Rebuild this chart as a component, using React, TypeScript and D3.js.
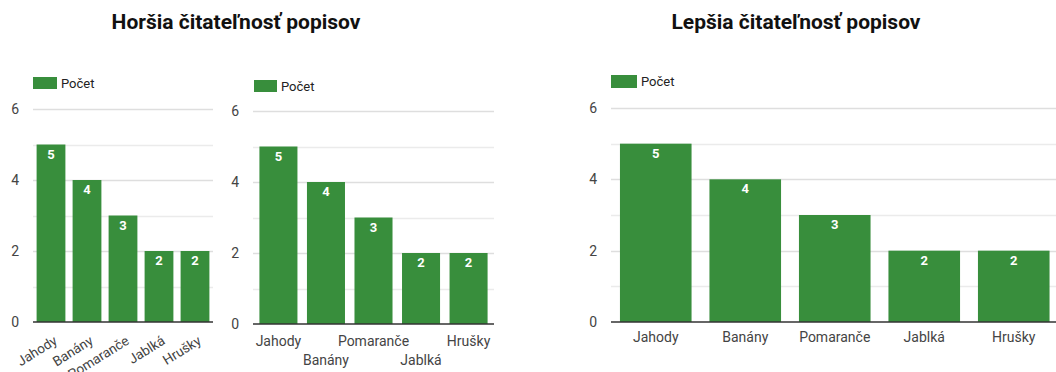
import React from "react";
import * as d3 from "d3";

const categories = ["Jahody", "Banány", "Pomaranče", "Jablká", "Hrušky"];
const counts = [5, 4, 3, 2, 2];
const seriesName = "Počet";
const yTicksMajor = [0, 2, 4, 6];
const yTicksAll = [1, 2, 3, 4, 5, 6];
const titles = ["Horšia čitateľnosť popisov", "Lepšia čitateľnosť popisov"];

const BAR = "#388e3c";
const FONT = "Roboto, 'Noto Sans', sans-serif";

type ChartProps = {
  left: number;
  right: number;
  top: number;
  bottom: number;
  padOuter: number;
  labelMode: "rotate" | "stagger" | "flat";
  legend: { x: number; y: number; w: number; h: number };
  labelFont: number;
};

function Chart({ left, right, top, bottom, padOuter, labelMode, legend, labelFont }: ChartProps) {
  const x = d3.scaleBand<string>().domain(categories).range([left, right]).paddingInner(0.2).paddingOuter(padOuter);
  const y = d3.scaleLinear().domain([0, 6]).range([bottom, top]);
  const bw = x.bandwidth();
  return (
    <g>
      <rect x={legend.x} y={legend.y} width={legend.w} height={legend.h} fill={BAR} />
      <text x={legend.x + legend.w + 4} y={legend.y + legend.h / 2} dy="0.35em" fontSize={13} fill="#222" fontFamily={FONT}>
        {seriesName}
      </text>
      {yTicksAll.map((t) => (
        <line key={"g" + t} x1={left} x2={Math.min(right, 1056)} y1={Math.round(y(t)) + 0.5} y2={Math.round(y(t)) + 0.5} stroke={t % 2 === 0 ? "#dedede" : "#ebebeb"} strokeWidth={1.5} />
      ))}
      {yTicksMajor.map((t) => (
        <text key={"t" + t} x={left - 14} y={y(t)} dy="0.35em" textAnchor="end" fontSize={14} fill="#444" fontFamily={FONT}>
          {t}
        </text>
      ))}
      {categories.map((c, i) => (
        <g key={c}>
          <rect x={x(c)!} y={y(counts[i])} width={bw} height={y(0) - y(counts[i])} fill={BAR} />
          <text x={x(c)! + bw / 2} y={y(counts[i]) + 14} textAnchor="middle" fontSize={13} fontWeight="bold" fill="#fff" fontFamily={FONT}>
            {counts[i]}
          </text>
        </g>
      ))}
      <line x1={left} x2={Math.min(right, 1056)} y1={bottom} y2={bottom} stroke="#333" strokeWidth={1.5} />
      {categories.map((c, i) => {
        const cx = x(c)! + bw / 2;
        if (labelMode === "rotate") {
          return (
            <text key={"l" + c} transform={`translate(${cx + 2},${bottom + 13}) rotate(-32)`} dy="0.71em" textAnchor="end" fontSize={labelFont} fill="#444" fontFamily={FONT}>
              {c}
            </text>
          );
        }
        const yy = labelMode === "stagger" ? (i % 2 === 0 ? bottom + 22 : bottom + 41) : bottom + 20;
        return (
          <text key={"l" + c} x={cx} y={yy} textAnchor="middle" fontSize={labelFont} fill="#444" fontFamily={FONT}>
            {c}
          </text>
        );
      })}
    </g>
  );
}

export default function App() {
  return (
    <svg width={1056} height={372} style={{ position: "absolute", left: 0, top: 0, background: "#fff" }}>
      <text x={236} y={29} textAnchor="middle" fontSize={21} fontWeight="bold" fill="#111" fontFamily={FONT}>
        {titles[0]}
      </text>
      <text x={796} y={29} textAnchor="middle" fontSize={21} fontWeight="bold" fill="#111" fontFamily={FONT}>
        {titles[1]}
      </text>
      <Chart left={33} right={213} top={109} bottom={322} padOuter={0.1} labelMode="rotate" legend={{ x: 33, y: 77, w: 24, h: 12 }} labelFont={13.5} />
      <Chart left={253} right={494} top={111} bottom={324} padOuter={0.135} labelMode="stagger" legend={{ x: 254, y: 80, w: 23, h: 12 }} labelFont={14} />
      <Chart left={611} right={1058.5} top={108} bottom={322} padOuter={0.1} labelMode="flat" legend={{ x: 611, y: 75, w: 26, h: 13 }} labelFont={14} />
    </svg>
  );
}
